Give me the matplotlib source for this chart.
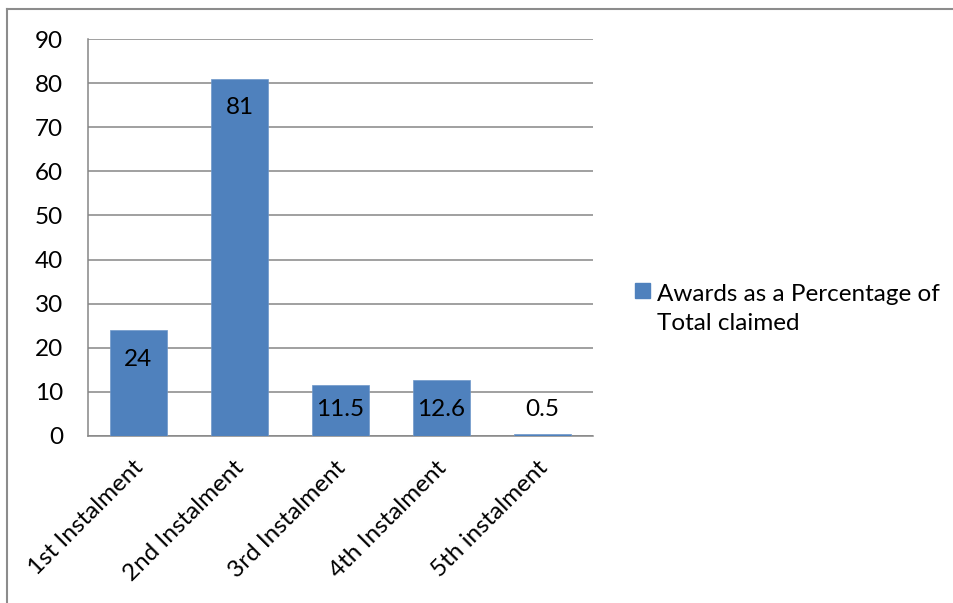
import matplotlib
matplotlib.use("Agg")
import matplotlib.pyplot as plt
import matplotlib.transforms as mtransforms
from matplotlib.lines import Line2D
from matplotlib.patches import Patch, Rectangle
from matplotlib.legend_handler import HandlerPatch

categories = ["1st Instalment", "2nd Instalment", "3rd Instalment", "4th Instalment", "5th instalment"]
values = [24, 81, 11.5, 12.6, 0.5]
value_labels = ["24", "81", "11.5", "12.6", "0.5"]
series_name = "Awards as a Percentage of\nTotal claimed"
yticks = [0, 10, 20, 30, 40, 50, 60, 70, 80, 90]

plt.rcParams['font.family'] = ['Lato', 'DejaVu Sans']
FS = 17.5
BAR = "#4F81BD"
GRID = "#868686"

fig = plt.figure(figsize=(9.54, 6.03), dpi=100)
ax = fig.add_axes([88/954, 1-436/603, (593-88)/954, (436-39)/603])

x = list(range(len(categories)))
ax.bar(x, values, width=0.565, color=BAR, edgecolor="#6f97c9", linewidth=0.5, zorder=3)
ax.set_xlim(-0.5, len(categories)-0.5)
ax.set_ylim(0, 90)
ax.set_yticks(yticks)
ax.set_yticklabels([str(t) for t in yticks])
ax.grid(axis='y', color=GRID, linewidth=1.1, zorder=0)
ax.set_axisbelow(True)
for s in ['top', 'right']:
    ax.spines[s].set_visible(False)
for s in ['left', 'bottom']:
    ax.spines[s].set_color(GRID)
    ax.spines[s].set_linewidth(1.1)
ax.tick_params(axis='y', length=0, pad=18, labelsize=FS, labelcolor='black')
ax.tick_params(axis='x', length=0, pad=15, labelsize=FS, labelcolor='black')
ax.set_xticks(x)
ax.set_xticklabels(categories, rotation=45, ha='right', rotation_mode='anchor')
shift = mtransforms.ScaledTranslation(-6/100, 0, fig.dpi_scale_trans)
for lab in ax.get_xticklabels():
    lab.set_transform(lab.get_transform() + shift)

# data labels: inside end, clamped near the base for short bars
for xi, v, lab in zip(x, values, value_labels):
    ly = max(v - 6.6, 6.1)
    ax.text(xi, ly, lab, ha='center', va='center', fontsize=FS, color='black', zorder=4)

def top_square(legend, orig_handle, xdescent, ydescent, width, height, fontsize):
    sq = 0.62 * fontsize
    c = 1.12 * fontsize
    return Rectangle((-xdescent, c - sq / 2), sq, sq)

handle = Patch(facecolor=BAR, edgecolor=BAR)
leg = fig.legend([handle], [series_name], loc='center left',
                 bbox_to_anchor=(613/954, 1-309/603), frameon=False, fontsize=FS,
                 handlelength=0.62, handleheight=0.7, handletextpad=0.3,
                 handler_map={Patch: HandlerPatch(patch_func=top_square)})
for t in leg.get_texts():
    t.set_linespacing(1.45)

# chart border (left and top visible)
fig.add_artist(Line2D([7/954, 7/954], [0, 1-9/603], transform=fig.transFigure, color="#8c8c8c", linewidth=1.5))
fig.add_artist(Line2D([7/954, 1], [1-9/603, 1-9/603], transform=fig.transFigure, color="#8c8c8c", linewidth=1.5))

fig.savefig("out.png", dpi=100)
